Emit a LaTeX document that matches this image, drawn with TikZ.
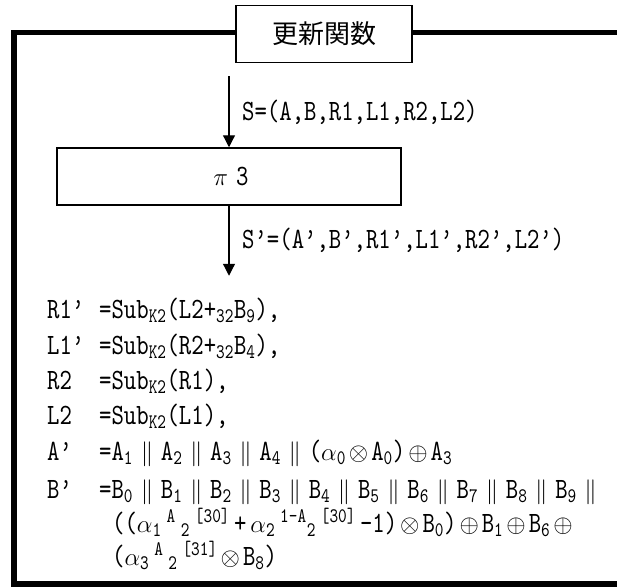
\documentclass[tikz,border=0pt]{standalone}
\usepackage{fontspec}
\setmainfont{lmmono10-regular.otf}[FakeStretch=0.8]
\newfontfamily\jpfont{Noto Sans CJK JP}
\usetikzlibrary{arrows.meta}
\newcommand\cat{\hspace{3.5pt}$\,\|\,$\hspace{3.5pt}}
\newcommand\al{$\alpha$}
\newcommand\op[1]{\hspace{3pt}$#1$\hspace{3pt}}
\newcommand\lo[1]{\textsubscript{#1}}
\newcommand\hi[1]{\textsuperscript{#1}}
\tikzset{
  thinbox/.style={draw,line width=1.5pt,fill=white,inner sep=0pt},
  flow/.style={line width=1.2pt,-{Triangle[width=12pt,length=12pt]}},
  eq/.style={anchor=base west,inner sep=0pt}
}
\begin{document}
\begin{tikzpicture}[x=1pt,y=-1pt,every node/.style={font=\fontsize{29.5}{33}\selectfont}]
\useasboundingbox (0,0) rectangle (617,587);
\draw[line width=5.4pt] (617,32.6) -- (13.8,32.6) -- (13.8,584) -- (617,584);
\node[thinbox,minimum width=176pt,minimum height=57pt] (title) at (324,34) {\jpfont\fontsize{26}{26}\selectfont 更新関数};
\node[thinbox,minimum width=344pt,minimum height=57pt] (pi3) at (229,176.5) {\hspace{4pt}$\pi$\hspace{8pt}3};
\coordinate (in) at ([yshift=71pt]pi3.north);
\coordinate (out) at ([yshift=-70pt]pi3.south);
\draw[flow] (in) -- (pi3.north);
\draw[flow] (pi3.south) -- (out);
\node[eq] (sIn) at (242,120) {S=(A,B,R1,L1,R2,L2)};
\node[eq] (sOut) at (242,248) {S'=(A',B',R1',L1',R2',L2')};
% updated state
\node[eq] (r1) at (47,318) {R1'};
\node[eq] (r1eq) at (99,318) {=Sub\lo{K2}(L2+\lo{32}B\lo{9}),};
\node[eq] (l1) at (47,354) {L1'};
\node[eq] (l1eq) at (99,354) {=Sub\lo{K2}(R2+\lo{32}B\lo{4}),};
\node[eq] (r2) at (47,389) {R2};
\node[eq] (r2eq) at (99,389) {=Sub\lo{K2}(R1),};
\node[eq] (l2) at (47,424) {L2};
\node[eq] (l2eq) at (99,424) {=Sub\lo{K2}(L1),};
\node[eq] (a) at (47,460) {A'};
\node[eq] (aeq) at (99,460) {=A\lo{1}\cat A\lo{2}\cat A\lo{3}\cat A\lo{4}\cat(\al\lo{0}\op\otimes A\lo{0})\op\oplus A\lo{3}};
\node[eq] (b) at (47,498) {B'};
\node[eq] (beq) at (99,498) {=B\lo{0}\cat B\lo{1}\cat B\lo{2}\cat B\lo{3}\cat B\lo{4}\cat B\lo{5}\cat B\lo{6}\cat B\lo{7}\cat B\lo{8}\cat B\lo{9}\cat};
\node[eq] (beq2) at (112,532) {((\al\lo{1}\,\hi{A}\,\lo{2}\,\hi{[30]}\hspace{4pt}+\hspace{4pt}\al\lo{2}\,\hi{1-A}\lo{2}\,\hi{[30]}\hspace{4pt}-1)\op\otimes B\lo{0})\op\oplus B\lo{1}\op\oplus B\lo{6}\op\oplus};
\node[eq] (beq3) at (112,565) {(\al\lo{3}\,\hi{A}\,\lo{2}\,\hi{[31]}\op\otimes B\lo{8})};
\end{tikzpicture}
\end{document}
